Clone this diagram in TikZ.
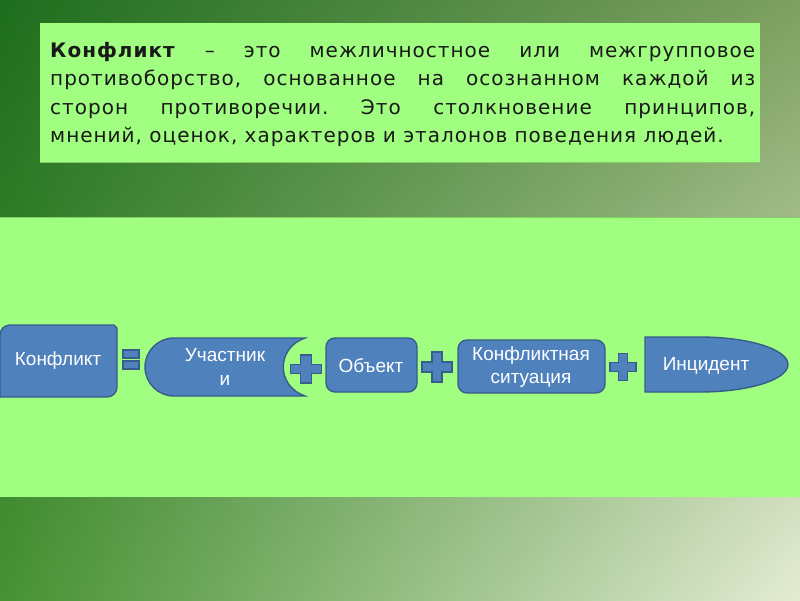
\documentclass[tikz,border=0pt]{standalone}
\usepackage{fontspec}
\usetikzlibrary{shadings}
\setmainfont{Liberation Sans}
\newfontfamily\txtfont[LetterSpace=5]{DejaVu Sans}
\frenchspacing
\definecolor{bgUL}{RGB}{30,110,30}
\definecolor{bgUR}{RGB}{125,160,95}
\definecolor{bgLL}{RGB}{70,145,50}
\definecolor{bgLR}{RGB}{228,236,212}
\definecolor{panel}{RGB}{160,255,128}
\definecolor{panelEdge}{RGB}{130,205,100}
\definecolor{shapeFill}{RGB}{79,129,189}
\definecolor{shapeEdge}{RGB}{56,93,138}
\definecolor{deftext}{RGB}{25,25,25}
\tikzset{
  blueshape/.style={fill=shapeFill, draw=shapeEdge, line width=1.4pt},
  whitetext/.style={text=white, font=\fontsize{19}{23.5}\selectfont, align=center, inner sep=0pt},
}
\newcommand{\plusmark}[4]{% center x, center y, width, height
  \pgfmathsetmacro{\pw}{#3/2}\pgfmathsetmacro{\ph}{#4/2}
  \pgfmathsetmacro{\ax}{#3/6}\pgfmathsetmacro{\ay}{#4/6}
  \draw[blueshape, line width=1.2pt] (#1-\ax,#2-\ph) -- (#1+\ax,#2-\ph) -- (#1+\ax,#2-\ay) -- (#1+\pw,#2-\ay) -- (#1+\pw,#2+\ay) -- (#1+\ax,#2+\ay) -- (#1+\ax,#2+\ph) -- (#1-\ax,#2+\ph) -- (#1-\ax,#2+\ay) -- (#1-\pw,#2+\ay) -- (#1-\pw,#2-\ay) -- (#1-\ax,#2-\ay) -- cycle;
}
\begin{document}
\begin{tikzpicture}[x=1pt,y=-1pt]
\useasboundingbox (0,0) rectangle (800,600);
% background
\shade[upper left=bgUL, upper right=bgUR, lower left=bgLL, lower right=bgLR] (0,0) rectangle (800,600);
% top panel
\fill[panel] (40,23) rectangle (760,162);
\draw[panelEdge, line width=1pt] (40,162) -- (760,162);
\node[anchor=north west, text width=705pt, inner sep=0pt, align=justify, text=deftext,
      font=\txtfont\fontsize{20}{28.5}\selectfont] (def) at (50,42)
  {\textbf{Конфликт} – это межличностное или межгрупповое\linebreak
   противоборство, основанное на осознанном каждой из\linebreak
   сторон противоречии. Это столкновение принципов,\linebreak
   мнений, оценок, характеров и эталонов поведения людей.};
% lower band
\fill[panel] (0,217) rectangle (800,497);
\draw[panelEdge, line width=1pt] (0,217) -- (800,217);
% Конфликт shape
\draw[blueshape] (0,397) -- (0,335) .. controls (0,329.5) and (4.5,325) .. (10,325) -- (114,325)
  -- (117,328) -- (117,387) .. controls (117,392.5) and (112.5,397) .. (107,397) -- cycle;
\node[whitetext] (konf) at (58,361) {Конфликт};
% equals sign
\draw[blueshape, line width=1.2pt] (123,350) rectangle (139,358);
\draw[blueshape, line width=1.2pt] (123,361) rectangle (139,369);
% Участники
\draw[blueshape] (305,338) -- (174,338) .. controls (158,338) and (145,351) .. (145,367)
  .. controls (145,383) and (158,396) .. (174,396) -- (305,396)
  .. controls (276,386) and (276,348) .. (305,338) -- cycle;
\node[whitetext] (uch) at (225,367) {Участник\\[1pt]и};
% Объект
\draw[blueshape, rounded corners=9pt] (326,338) rectangle (417,392);
\node[whitetext] (obj) at (371,366) {Объект};
% Конфликтная ситуация
\draw[blueshape, rounded corners=9pt] (458,340) rectangle (605,393);
\node[whitetext] (sit) at (531,367) {Конфликтная\\ситуация};
% Инцидент
\draw[blueshape] (645,337) -- (700,337) .. controls (748.6,337) and (788,349.3) .. (788,364.5)
  .. controls (788,379.7) and (748.6,392) .. (700,392) -- (645,392) -- cycle;
\node[whitetext] (inc) at (706,366) {Инцидент};
% plus signs
\plusmark{306}{369}{31}{28}
\plusmark{437}{367}{30}{30}
\plusmark{623}{367}{26}{27}
\end{tikzpicture}
\end{document}
